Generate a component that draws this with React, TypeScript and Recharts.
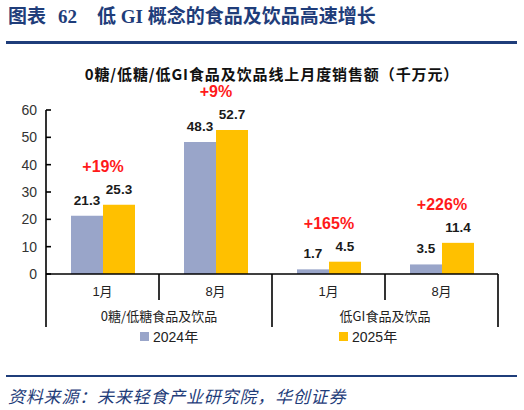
import React from 'react';
import { BarChart, Bar, XAxis, YAxis, LabelList } from 'recharts';

const months = ['1月', '8月', '1月', '8月'];
const groups = ['0糖/低糖食品及饮品', '低GI食品及饮品'];
const groupOf = [0, 0, 1, 1];
const sales2024 = [21.3, 48.3, 1.7, 3.5];
const sales2025 = [25.3, 52.7, 4.5, 11.4];
const growth = ['+19%', '+9%', '+165%', '+226%'];
const yTicks = [0, 10, 20, 30, 40, 50, 60];
const seriesNames = ['2024年', '2025年'];

const C2024 = '#99A5C9';
const C2025 = '#FFC000';
const NAVY = '#1F3D7A';
const LATIN = '"Liberation Sans", Arial, "Noto Sans CJK SC", sans-serif';
const CJK = '"Noto Sans CJK SC", "Liberation Sans", sans-serif';

const data = months.map((m, i) => ({
  month: m,
  group: groups[groupOf[i]],
  v2024: sales2024[i],
  v2025: sales2025[i],
  growth: growth[i],
}));

const XTick = (props: any) => {
  const { x, y, payload } = props;
  const i = payload.index;
  const half = payload.offset ?? 56.5;
  const longY = y + 53;
  const shortY = y + 26;
  const els: any[] = [];
  const left = x - half;
  els.push(
    <line key="l" x1={left} x2={left} y1={y} y2={i % 2 === 0 ? longY : shortY} stroke="#000" strokeWidth={1.6} />
  );
  if (i === months.length - 1) {
    els.push(<line key="r" x1={x + half} x2={x + half} y1={y} y2={longY} stroke="#000" strokeWidth={1.6} />);
  }
  els.push(
    <text key="m" x={x} y={y + 22} textAnchor="middle" fontSize={13} fill="#222" fontFamily={LATIN}>
      {months[i]}
    </text>
  );
  if (i % 2 === 0) {
    els.push(
      <text key="g" x={x + half} y={y + 47} textAnchor="middle" fontSize={13} fill="#222" fontFamily={CJK}>
        {groups[groupOf[i]]}
      </text>
    );
  }
  return <g>{els}</g>;
};

const YTick = (props: any) => {
  const { x, y, payload } = props;
  return (
    <g>
      <line x1={x} x2={x + 5} y1={y} y2={y} stroke="#000" strokeWidth={1.6} />
      <text x={x - 9} y={y + 5} textAnchor="end" fontSize={14} fill="#333" fontFamily={LATIN}>
        {payload.value}
      </text>
    </g>
  );
};

const GrowthLabel = (props: any) => {
  const { x, y, index } = props;
  return (
    <text x={x} y={y - 33} textAnchor="middle" fontSize={16} fontWeight="bold" fill="#FF1A1A" fontFamily={LATIN}>
      {growth[index]}
    </text>
  );
};

export default function App() {
  return (
    <div style={{ position: 'fixed', left: 0, top: 0, width: 524, height: 410, background: '#fff', overflow: 'hidden' }}>
      <div
        style={{
          position: 'absolute', left: 8, top: 7, fontSize: 19, lineHeight: '20px', fontWeight: 'bold',
          color: NAVY, fontFamily: '"Liberation Serif", "Noto Sans CJK SC", serif', whiteSpace: 'nowrap',
        }}
      >
        <span>图表</span>
        <span style={{ marginLeft: 12 }}>62</span>
        <span style={{ marginLeft: 20 }}>低 GI 概念的食品及饮品高速增长</span>
      </div>
      <div style={{ position: 'absolute', left: 6, top: 41, width: 511, height: 2.5, background: NAVY }} />
      <div
        style={{
          position: 'absolute', left: 62, width: 420, top: 66, textAlign: 'center', fontSize: 15, lineHeight: '15px',
          fontWeight: 'bold', color: '#111', fontFamily: CJK, letterSpacing: 0.9, whiteSpace: 'nowrap',
        }}
      >
        0糖/低糖/低GI食品及饮品线上月度销售额（千万元）
      </div>
      <div style={{ position: 'absolute', left: 0, top: 0 }}>
        <BarChart
          width={524}
          height={410}
          data={data}
          margin={{ top: 110, right: 26, bottom: 76, left: 6 }}
          barGap={0}
        >
          <XAxis
            dataKey="month"
            height={60}
            tickLine={false}
            tickSize={0}
            tickMargin={0}
            axisLine={{ stroke: '#000', strokeWidth: 1.6 }}
            tick={<XTick />}
            interval={0}
          />
          <YAxis
            width={40}
            domain={[0, 60]}
            ticks={yTicks}
            tickLine={false}
            tickSize={0}
            tickMargin={0}
            axisLine={{ stroke: '#000', strokeWidth: 1.6 }}
            tick={<YTick />}
            interval={0}
          />
          <Bar dataKey="v2024" name={seriesNames[0]} fill={C2024} barSize={32} isAnimationActive={false}>
            <LabelList dataKey="v2024" position="top" offset={11} fontSize={13.5} fontWeight="bold" fill="#1a1a1a" fontFamily={LATIN} />
          </Bar>
          <Bar dataKey="v2025" name={seriesNames[1]} fill={C2025} barSize={32} isAnimationActive={false}>
            <LabelList dataKey="v2025" position="top" offset={11} fontSize={13.5} fontWeight="bold" fill="#1a1a1a" fontFamily={LATIN} />
            <LabelList dataKey="growth" content={<GrowthLabel />} />
          </Bar>
        </BarChart>
      </div>
      {[0, 1].map((k) => (
        <div
          key={k}
          style={{
            position: 'absolute', left: k === 0 ? 140 : 339, top: 327, height: 18, display: 'flex', alignItems: 'center',
            fontSize: 14, color: '#222', fontFamily: LATIN, whiteSpace: 'nowrap',
          }}
        >
          <span style={{ display: 'inline-block', width: 9, height: 9, background: k === 0 ? C2024 : C2025, marginRight: 4 }} />
          <span>{seriesNames[k]}</span>
        </div>
      ))}
      <div style={{ position: 'absolute', left: 6, top: 375, width: 511, height: 1.7, background: NAVY }} />
      <div
        style={{
          position: 'absolute', left: 8, top: 385, fontSize: 17, lineHeight: '22px', fontStyle: 'italic',
          color: NAVY, fontFamily: CJK, letterSpacing: 0.8, whiteSpace: 'nowrap',
        }}
      >
        资料来源：未来轻食产业研究院，华创证券
      </div>
    </div>
  );
}
